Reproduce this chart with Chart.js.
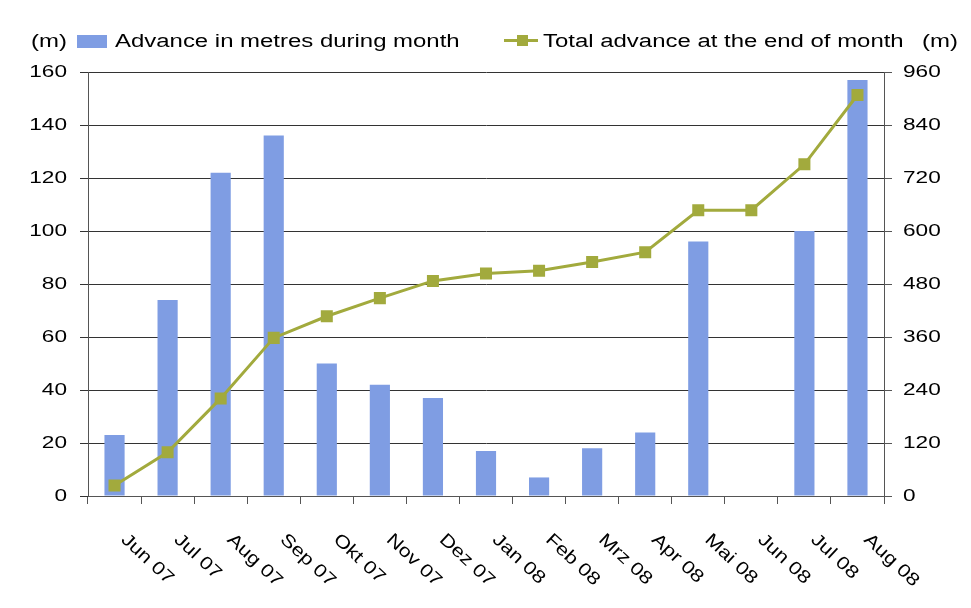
<!DOCTYPE html>
<html>
<head>
<meta charset="utf-8">
<script src="https://cdn.jsdelivr.net/npm/chart.js@4/dist/chart.umd.min.js"></script>
<style>
html,body{margin:0;padding:0;background:#ffffff;}
#wrap{width:971px;height:608px;}
</style>
</head>
<body>
<div id="wrap"><canvas id="c" width="971" height="608"></canvas></div>
<script>
const categories = ['Jun 07','Jul 07','Aug 07','Sep 07','Okt 07','Nov 07','Dez 07','Jan 08','Feb 08','Mrz 08','Apr 08','Mai 08','Jun 08','Jul 08','Aug 08'];
const monthlyAdvance = [23, 74, 122, 136, 50, 42, 37, 17, 7, 18, 24, 96, 0, 100, 157];
const totalAdvance = [24, 99, 221, 358, 407, 448, 487, 504, 510, 530, 552, 647, 647, 751, 908];
const leftTicks = [0, 20, 40, 60, 80, 100, 120, 140, 160];
const rightTicks = [0, 120, 240, 360, 480, 600, 720, 840, 960];
const unitLabel = '(m)';

const FONT = '"Liberation Sans", Arial, sans-serif';
const STRETCH = 1.33;
const BAR = '#7f9de3';
const LINE = '#a2aa3d';

// Text in the reference is horizontally widened; apply the same widening to every text draw.
function patchText(ctx){
  if (ctx._origFillText) return;
  const orig = ctx.fillText;
  ctx._origFillText = orig;
  ctx.fillText = function(t, x, y, mw){
    this.save();
    this.translate(x, y);
    this.scale(STRETCH, 1);
    orig.call(this, t, 0, 0);
    this.restore();
  };
}

const bgPlugin = {
  id: 'bg',
  beforeDraw(chart){
    const ctx = chart.ctx;
    patchText(ctx);
    ctx.save();
    ctx.fillStyle = '#ffffff';
    ctx.fillRect(0, 0, chart.width, chart.height);
    ctx.restore();
  }
};

const labelsPlugin = {
  id: 'customText',
  afterDraw(chart){
    const ctx = chart.ctx;
    patchText(ctx);
    const orig = ctx._origFillText;
    const xs = chart.scales.x;
    const area = chart.chartArea;
    ctx.save();
    ctx.fillStyle = '#000';
    ctx.font = '18px ' + FONT;
    ctx.textAlign = 'left';
    ctx.textBaseline = 'middle';
    categories.forEach((lab, i) => {
      const x = xs.getPixelForValue(i) + 9;
      const y = area.bottom + 41;
      ctx.save();
      ctx.translate(x, y);
      ctx.rotate(43 * Math.PI / 180);
      ctx.scale(1.2, 1);
      orig.call(ctx, lab, 0, 0);
      ctx.restore();
    });
    // legend
    const ly = 42;
    ctx.fillText(unitLabel, 31, ly);
    ctx.fillStyle = BAR;
    ctx.fillRect(77, 35, 30, 13);
    ctx.fillStyle = '#000';
    ctx.fillText(chart.data.datasets[1].label, 115, ly);
    ctx.strokeStyle = LINE;
    ctx.lineWidth = 3;
    ctx.beginPath();
    ctx.moveTo(504, 40.5);
    ctx.lineTo(538, 40.5);
    ctx.stroke();
    ctx.fillStyle = LINE;
    ctx.fillRect(517, 35, 11, 11);
    ctx.fillStyle = '#000';
    ctx.fillText(chart.data.datasets[0].label, 543, ly);
    ctx.fillText(unitLabel, 922, ly);
    ctx.restore();
  }
};

new Chart(document.getElementById('c'), {
  type: 'bar',
  data: {
    labels: categories,
    datasets: [
      {
        type: 'line',
        label: 'Total advance at the end of month',
        data: totalAdvance,
        yAxisID: 'y1',
        borderColor: LINE,
        backgroundColor: LINE,
        borderWidth: 3,
        pointStyle: 'rect',
        pointRadius: 8.5,
        pointBorderWidth: 0,
        pointBackgroundColor: LINE,
        tension: 0,
        order: 0
      },
      {
        type: 'bar',
        label: 'Advance in metres during month',
        data: monthlyAdvance,
        yAxisID: 'y',
        backgroundColor: BAR,
        borderWidth: 0,
        barPercentage: 0.38,
        categoryPercentage: 1.0,
        order: 1
      }
    ]
  },
  options: {
    responsive: false,
    animation: false,
    devicePixelRatio: 1,
    layout: { padding: { top: 72, left: 0, right: 0, bottom: 0 } },
    plugins: { legend: { display: false }, tooltip: { enabled: false } },
    scales: {
      x: {
        offset: true,
        grid: { offset: true, drawOnChartArea: false, drawTicks: true, tickLength: 8, color: '#555', lineWidth: 1 },
        border: { display: true, color: '#555', width: 1 },
        ticks: { display: false },
        afterFit(s){ s.height = 112; }
      },
      y: {
        position: 'left',
        min: leftTicks[0],
        max: leftTicks[leftTicks.length - 1],
        afterBuildTicks(s){ s.ticks = leftTicks.map(v => ({ value: v })); },
        grid: { color: '#333', lineWidth: 1, tickLength: 8, drawTicks: true },
        border: { display: true, color: '#555', width: 1 },
        ticks: { color: '#000', font: { family: FONT, size: 17 }, padding: 13 },
        afterFit(s){ s.width = 88; }
      },
      y1: {
        position: 'right',
        min: rightTicks[0],
        max: rightTicks[rightTicks.length - 1],
        afterBuildTicks(s){ s.ticks = rightTicks.map(v => ({ value: v })); },
        grid: { drawOnChartArea: false, color: '#555', tickLength: 8, drawTicks: true },
        border: { display: true, color: '#555', width: 1 },
        ticks: { color: '#000', font: { family: FONT, size: 17 }, padding: 11 },
        afterFit(s){ s.width = 87; }
      }
    }
  },
  plugins: [bgPlugin, labelsPlugin]
});
</script>
</body>
</html>
